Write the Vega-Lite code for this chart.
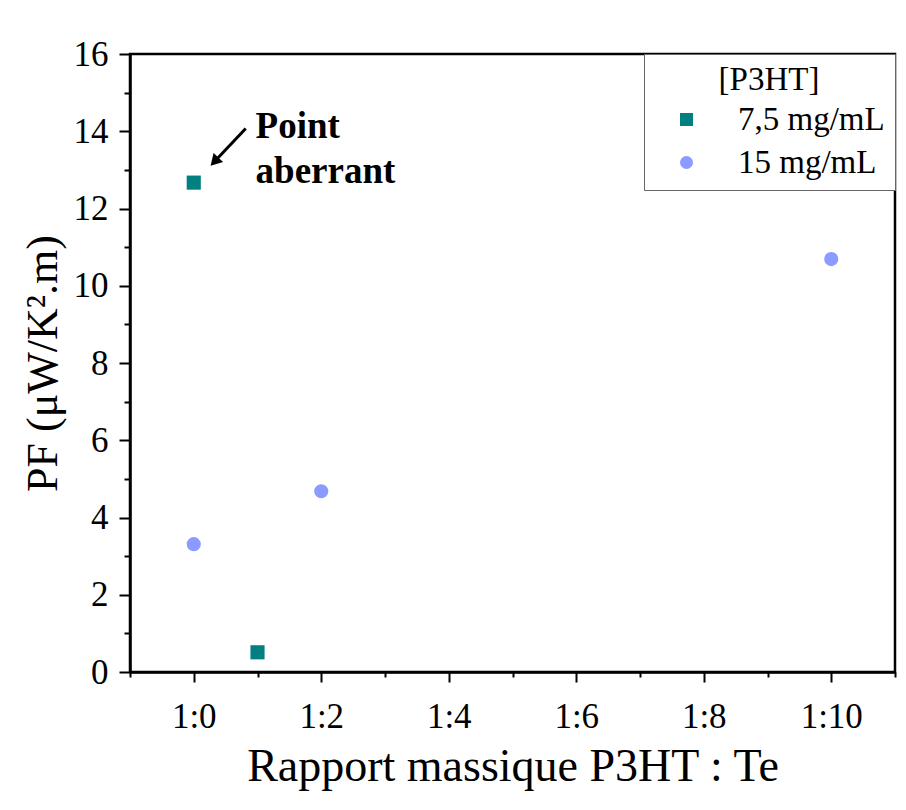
{
  "$schema": "https://vega.github.io/schema/vega-lite/v6.json",
  "width": 765,
  "height": 618,
  "autosize": {"type": "none"},
  "padding": {"left": 130, "top": 54, "right": 11, "bottom": 138},
  "background": "white",
  "config": {
    "font": "Liberation Serif",
    "view": {"stroke": "black", "strokeWidth": 2.5},
    "axis": {"grid": false, "domainColor": "black", "tickColor": "black", "labelColor": "black", "titleColor": "black", "labelFont": "Liberation Serif", "titleFont": "Liberation Serif", "domainWidth": 2.5, "tickWidth": 2}
  },
  "datasets": {
    "points": [
      {"ratio": 0, "pf": 12.67, "conc": "7,5 mg/mL"},
      {"ratio": 1, "pf": 0.51, "conc": "7,5 mg/mL"},
      {"ratio": 0, "pf": 3.31, "conc": "15 mg/mL"},
      {"ratio": 2, "pf": 4.68, "conc": "15 mg/mL"},
      {"ratio": 10, "pf": 10.69, "conc": "15 mg/mL"}
    ],
    "arrow": [
      {"x": 0.815, "y": 14.07, "x2": 0.345, "y2": 13.25}
    ],
    "labels": [
      {"x": 0.97, "y": 13.83, "text": "Point"},
      {"x": 0.97, "y": 12.67, "text": "aberrant"}
    ]
  },
  "layer": [
    {
      "data": {"name": "points"},
      "mark": {"type": "point", "opacity": 0},
      "encoding": {
        "x": {"field": "ratio", "type": "quantitative", "scale": {"domain": [-1, 11], "nice": false, "zero": false},
          "axis": {"orient": "bottom", "values": [-1, 1, 3, 5, 7, 9, 11], "labels": false, "tickSize": 5, "domain": false, "title": null}},
        "y": {"field": "pf", "type": "quantitative", "scale": {"domain": [0, 16], "nice": false},
          "axis": {"orient": "left", "values": [1, 3, 5, 7, 9, 11, 13, 15], "labels": false, "tickSize": 6, "domain": false, "title": null}}
      }
    },
    {
      "data": {"name": "points"},
      "mark": {"type": "point", "filled": true, "opacity": 1, "size": 200},
      "encoding": {
        "x": {"field": "ratio", "type": "quantitative", "scale": {"domain": [-1, 11], "nice": false, "zero": false},
          "axis": {"orient": "bottom", "values": [0, 2, 4, 6, 8, 10], "labelExpr": "'1:' + datum.value", "tickSize": 10, "labelFontSize": 35, "labelPadding": 17,
            "title": "Rapport massique P3HT : Te", "titleFontSize": 46, "titleFontWeight": "normal", "titlePadding": 10}},
        "y": {"field": "pf", "type": "quantitative", "scale": {"domain": [0, 16], "nice": false},
          "axis": {"orient": "left", "values": [0, 2, 4, 6, 8, 10, 12, 14, 16], "tickSize": 11, "labelFontSize": 35, "labelPadding": 11,
            "title": "PF (μW/K².m)", "titleFontSize": 44, "titleFontWeight": "normal", "titlePadding": 8}},
        "color": {"field": "conc", "type": "nominal",
          "scale": {"domain": ["7,5 mg/mL", "15 mg/mL"], "range": ["#008080", "#8C9BFF"]},
          "legend": {"title": "[P3HT]", "orient": "none", "legendX": 514, "legendY": 0,
            "titleFontSize": 33, "titleFontWeight": "normal", "titleFont": "Liberation Serif", "titleColor": "black", "titleAnchor": "middle",
            "labelFontSize": 33, "labelFont": "Liberation Serif", "labelColor": "black",
            "padding": 10, "symbolOffset": 16, "labelOffset": 35, "rowPadding": 9, "titlePadding": 6,
            "strokeColor": "#666666", "fillColor": "white", "symbolSize": 170, "symbolStrokeWidth": 0}},
        "shape": {"field": "conc", "type": "nominal",
          "scale": {"domain": ["7,5 mg/mL", "15 mg/mL"], "range": ["square", "circle"]}}
      }
    },
    {
      "data": {"name": "arrow"},
      "mark": {"type": "rule", "strokeWidth": 3, "color": "black"},
      "encoding": {
        "x": {"field": "x", "type": "quantitative", "axis": null},
        "y": {"field": "y", "type": "quantitative", "axis": null},
        "x2": {"field": "x2"},
        "y2": {"field": "y2"}
      }
    },
    {
      "data": {"name": "arrow"},
      "mark": {"type": "point", "shape": "triangle", "filled": true, "color": "black", "size": 170, "angle": 223, "opacity": 1},
      "encoding": {
        "x": {"field": "x2", "type": "quantitative", "axis": null},
        "y": {"field": "y2", "type": "quantitative", "axis": null}
      }
    },
    {
      "data": {"name": "labels"},
      "mark": {"type": "text", "align": "left", "baseline": "alphabetic", "font": "Liberation Serif", "fontWeight": "bold", "fontSize": 37, "color": "black"},
      "encoding": {
        "x": {"field": "x", "type": "quantitative", "axis": null},
        "y": {"field": "y", "type": "quantitative", "axis": null},
        "text": {"field": "text"}
      }
    }
  ],
  "resolve": {"axis": {"x": "independent", "y": "independent"}}
}
